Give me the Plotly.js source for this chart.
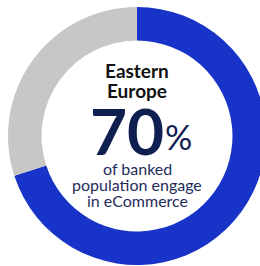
<!DOCTYPE html>
<html><head><meta charset="utf-8">
<script src="https://cdn.plot.ly/plotly-3.0.1.min.js"></script>
<style>html,body{margin:0;padding:0;overflow:hidden;background:#fff;width:260px;height:266px}#c{width:274px;height:272px}</style>
</head><body><div id="c"></div>
<script>
const labels = ["Engage in eCommerce", "Other"];
const values = [70, 30];
const colors = ["#1733C8", "#C9C7C5"];
const region = ["Eastern", "Europe"];
const headline = "70";
const caption = ["of banked", "population engage", "in eCommerce"];

const W = 274, H = 272;
const px = x => x / W, py = y => 1 - y / H;
const R = 129;
const trace = {
  type: "pie", labels: labels, values: values, hole: 0.74,
  sort: false, direction: "clockwise", rotation: 0,
  marker: {colors: colors, line: {width: 0}},
  textinfo: "none", hoverinfo: "none", showlegend: false,
  domain: {x: [0.5 - R / W, 0.5 + R / W], y: [0.5 - R / H, 0.5 + R / H]}
};
const ann = [];
const navy = "#0F2050";
const base = {xref: "paper", yref: "paper", showarrow: false, yanchor: "middle", borderpad: 0};
region.forEach((t, i) => ann.push(Object.assign({}, base, {text: "<b>" + t + "</b>", x: px(137), y: py(71 + i * 20), xanchor: "center", font: {family: "Lato", size: 19, color: "#111111", weight: 900}})));
ann.push(Object.assign({}, base, {text: "<b>" + headline + "</b>", x: px(165), y: py(130), xanchor: "right", font: {family: "Lato", size: 64, color: navy, weight: 900}}));
ann.push(Object.assign({}, base, {text: "%", x: px(164), y: py(136), xanchor: "left", font: {family: "Lato", size: 34, color: navy}}));
caption.forEach((t, i) => ann.push(Object.assign({}, base, {text: t, x: px(137), y: py(168 + i * 16), xanchor: "center", font: {family: "Lato", size: 16, color: "#1F2D5C"}})));

Plotly.newPlot("c", [trace], {
  width: W, height: H, margin: {l: 0, r: 0, t: 0, b: 0},
  paper_bgcolor: "#fff", annotations: ann
}, {staticPlot: true, displayModeBar: false});
</script></body></html>
